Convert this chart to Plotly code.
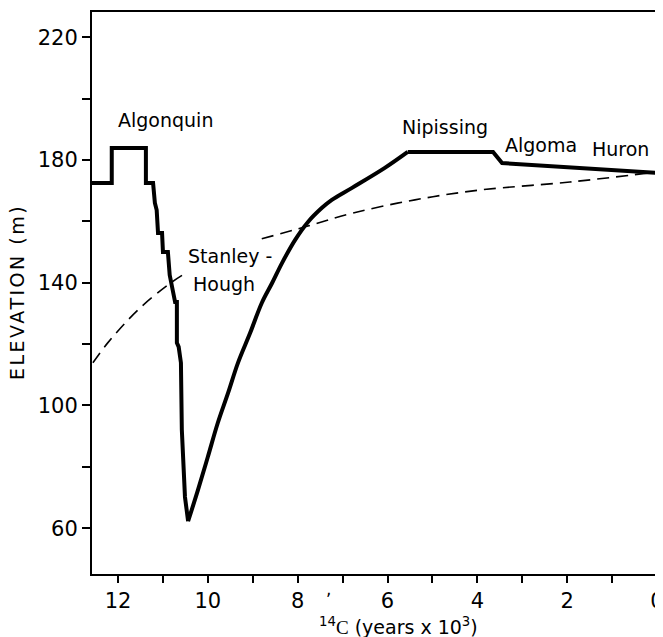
import plotly.graph_objects as go

# Solid curve, stepped Algonquin part and the fall to the low stage (ka BP, elevation m)
step_x = [12.58, 12.14, 12.14, 11.38, 11.38, 11.22, 11.18, 11.14, 11.11, 11.02, 11.00, 10.89,
          10.85, 10.78, 10.73, 10.69, 10.69, 10.65, 10.60, 10.58, 10.51, 10.44]
step_y = [172.5, 172.5, 183.9, 183.9, 172.5, 172.5, 166.0, 163.7, 156.2, 156.2, 150.0, 150.0,
          142.5, 137.7, 133.7, 133.7, 120.4, 119.1, 113.9, 92.1, 70.2, 62.3]
# Solid curve, rise to Nipissing
rise_x = [10.44, 10.22, 10.00, 9.78, 9.55, 9.33, 9.06, 8.80, 8.57, 8.35, 8.06, 7.77, 7.46, 7.24, 6.79, 6.06, 5.55]
rise_y = [62.3, 72.5, 83.3, 94.3, 104.1, 113.9, 123.6, 133.4, 139.9, 146.4, 153.9, 159.8, 164.4, 167.0, 170.9, 177.4, 182.6]
# Solid curve, Nipissing - Algoma - Huron
late_x = [5.55, 3.65, 3.45, 0.0]
late_y = [182.6, 182.6, 179.0, 175.8]

# Dashed curve (broken where the Stanley-Hough label sits)
dash1_x = [12.56, 12.23, 11.56, 10.89, 10.45]
dash1_y = [113.9, 120.4, 131.1, 139.3, 143.5]
dash2_x = [8.80, 7.84, 6.77, 5.39, 3.94, 1.94, 0.16]
dash2_y = [154.3, 158.2, 162.7, 167.0, 170.2, 172.8, 175.8]

x_tickvals = list(range(0, 13))
x_ticktext = [str(v) if v % 2 == 0 else "" for v in x_tickvals]
y_tickvals = [60, 80, 100, 120, 140, 160, 180, 200, 220]
y_ticktext = ["60", "", "100", "", "140", "", "180", "", "220"]

labels = [
    ("Algonquin", 10.94, 193.0, "center"),
    ("Stanley -", 10.49, 148.7, "left"),
    ("Hough", 10.38, 139.6, "left"),
    ("Nipissing", 4.72, 190.7, "center"),
    ("Algoma", 2.58, 184.9, "center"),
    ("Huron", 0.82, 183.6, "center"),
]

fig = go.Figure()
for dx, dy in [(dash1_x, dash1_y), (dash2_x, dash2_y)]:
    fig.add_trace(go.Scatter(x=dx, y=dy, mode="lines",
                             line=dict(color="black", width=1.6, dash="12px,7px", shape="spline"),
                             hoverinfo="skip", showlegend=False))
fig.add_trace(go.Scatter(x=step_x, y=step_y, mode="lines",
                         line=dict(color="black", width=4),
                         hoverinfo="skip", showlegend=False))
fig.add_trace(go.Scatter(x=rise_x, y=rise_y, mode="lines",
                         line=dict(color="black", width=4, shape="spline", smoothing=1.0),
                         hoverinfo="skip", showlegend=False))
fig.add_trace(go.Scatter(x=late_x, y=late_y, mode="lines",
                         line=dict(color="black", width=4),
                         hoverinfo="skip", showlegend=False))

font_family = "DejaVu Sans"
for txt, x, y, anchor in labels:
    fig.add_annotation(x=x, y=y, text=txt, showarrow=False, xanchor=anchor, yanchor="middle",
                       font=dict(family=font_family, size=19, color="black"))

# stray mark on the original print
fig.add_annotation(xref="paper", yref="paper", x=0.4177, y=-0.048, text=",", showarrow=False,
                   font=dict(family=font_family, size=17, color="black"))

# axis titles
fig.add_annotation(xref="paper", yref="paper", x=0.5416, y=-0.092, showarrow=False,
                   xanchor="center", yanchor="middle",
                   text="<sup>14</sup><span style='font-family:Liberation Serif'>C</span> (years x 10<sup>3</sup>)",
                   font=dict(family=font_family, size=19, color="black"))
fig.add_annotation(xref="paper", yref="paper", x=-0.1327, y=0.5018, showarrow=False,
                   xanchor="center", yanchor="middle", textangle=-90,
                   text="<span style='letter-spacing:2.5px'>ELEVATION (m)</span>",
                   font=dict(family=font_family, size=19, color="black"))

fig.update_xaxes(range=[12.58, 0], tickvals=x_tickvals, ticktext=x_ticktext,
                 ticks="outside", ticklen=7, tickwidth=2, tickcolor="black",
                 showline=True, linecolor="black", linewidth=2, mirror=True,
                 showgrid=False, zeroline=False, automargin=False,
                 tickfont=dict(family=font_family, size=21, color="black"))
fig.update_yaxes(range=[45.1, 228.2], tickvals=y_tickvals, ticktext=y_ticktext,
                 ticks="outside", ticklen=8, tickwidth=2, tickcolor="black",
                 showline=True, linecolor="black", linewidth=2, mirror=True,
                 showgrid=False, zeroline=False, automargin=False,
                 tickfont=dict(family=font_family, size=21, color="black"))

# the page adds an 8px body margin, so the plot area is offset to land at 92..657 x 12..574
fig.update_layout(width=663, height=637, margin=dict(l=84, r=14, t=4, b=71),
                  plot_bgcolor="white", paper_bgcolor="white", showlegend=False)

fig.write_html("out.html")
